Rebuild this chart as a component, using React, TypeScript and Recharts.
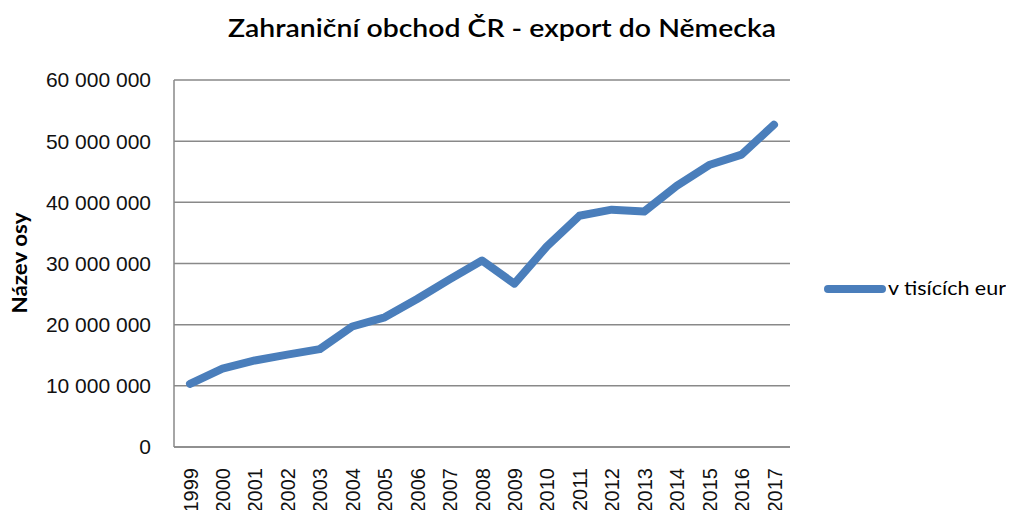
import React from 'react';
import { LineChart, Line, XAxis, YAxis, CartesianGrid, Legend } from 'recharts';

const years = ['1999','2000','2001','2002','2003','2004','2005','2006','2007','2008','2009','2010','2011','2012','2013','2014','2015','2016','2017'];
const exportValues = [10340000, 12800000, 14150000, 15100000, 16000000, 19700000, 21200000, 24200000, 27400000, 30500000, 26700000, 32800000, 37800000, 38800000, 38500000, 42700000, 46100000, 47800000, 52700000];
const yTicks = [0, 10000000, 20000000, 30000000, 40000000, 50000000, 60000000];
const seriesName = 'v tisících eur';
const chartTitle = 'Zahraniční obchod ČR - export do Německa';
const yAxisTitle = 'Název osy';

const data = years.map((y, i) => ({ year: y, value: exportValues[i] }));

const fmt = (v: number) => String(v).replace(/\B(?=(\d{3})+(?!\d))/g, ' ');

const tickFont = "'Liberation Sans', Arial, sans-serif";

const XTick = (props: any) => {
  const { x, y, payload } = props;
  const tx = x + 7.5;
  const ty = y + 13;
  return (
    <text
      x={tx}
      y={ty}
      transform={`rotate(-90, ${tx}, ${ty})`}
      textAnchor="end"
      fontFamily={tickFont}
      fontSize={20}
      fill="#111"
    >
      {payload.value}
    </text>
  );
};

const LegendContent = () => (
  <svg width={190} height={40} style={{ display: 'block' }}>
    <line x1={12} y1={19} x2={66} y2={19} stroke="#4A7EBB" strokeWidth={8} strokeLinecap="round" />
    <text x={72} y={25} fontFamily="Lato, 'Noto Sans', sans-serif" fontSize={20} fill="#000" textLength={118} lengthAdjust="spacingAndGlyphs">{seriesName}</text>
  </svg>
);

export default function App() {
  return (
    <div style={{ position: 'absolute', left: 0, top: 0, width: 1009, height: 510, background: '#fff' }}>
      <LineChart width={1009} height={510} data={data} margin={{ top: 80, right: 219, left: 0, bottom: 0 }}>
        <CartesianGrid vertical={false} stroke="#898989" strokeWidth={1.5} />
        <XAxis
          dataKey="year"
          height={63}
          padding={{ left: 16, right: 16 }}
          axisLine={{ stroke: '#898989', strokeWidth: 1.5 }}
          tickLine={false}
          interval={0}
          tick={<XTick />}
        />
        <YAxis
          width={174}
          domain={[0, 60000000]}
          ticks={yTicks}
          tickFormatter={fmt}
          axisLine={{ stroke: '#898989', strokeWidth: 1.5 }}
          tickLine={false}
          tickSize={0}
          tickMargin={23}
          tick={{ fontFamily: tickFont, fontSize: 21, fill: '#111' }}
        />
        <Legend
          layout="horizontal"
          verticalAlign="middle"
          align="center"
          content={<LegendContent />}
          wrapperStyle={{ left: 816, top: 270, width: 190, height: 40 }}
        />
        <Line
          type="linear"
          dataKey="value"
          name={seriesName}
          stroke="#4A7EBB"
          strokeWidth={8}
          strokeLinecap="round"
          strokeLinejoin="round"
          dot={false}
          activeDot={false}
          isAnimationActive={false}
        />
      </LineChart>
      <svg width={1009} height={510} style={{ position: 'absolute', left: 0, top: 0, pointerEvents: 'none' }}>
        <text x={502} y={37} textAnchor="middle" fontFamily="Lato, 'Noto Sans', sans-serif" fontWeight={600} fontSize={25} fill="#000" textLength={548} lengthAdjust="spacingAndGlyphs">
          {chartTitle}
        </text>
        <text x={27} y={263} textAnchor="middle" transform="rotate(-90, 27, 263)" fontFamily="Lato, 'Noto Sans', sans-serif" fontWeight={700} fontSize={21} fill="#000" textLength={101} lengthAdjust="spacingAndGlyphs">
          {yAxisTitle}
        </text>
      </svg>
    </div>
  );
}
